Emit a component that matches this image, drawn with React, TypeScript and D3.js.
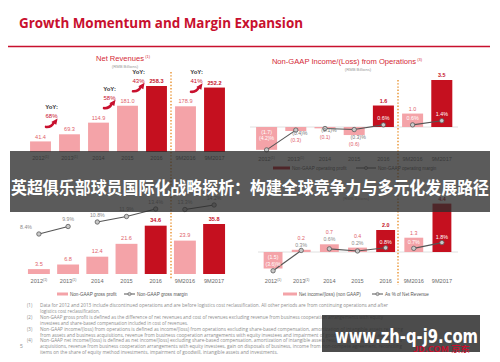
import React from "react";
import * as d3 from "d3";

// ---------- DATA ----------
const categories = ["2012", "2013", "2014", "2015", "2016", "9M2016", "9M2017"];
const superscripts = ["(1)", "(1)", "", "", "", "", ""];
const highlightCats = ["2016", "9M2017"];

const netRevenues = [41.4, 69.3, 114.9, 181.0, 258.3, 178.9, 252.2];
const yoyFrom = ["2012", "2014", "2015", "9M2016"];
const yoyLabels = ["68%", "58%", "43%", "41%"];

const opIncome = [-1.7, -0.3, -0.1, -0.6, 1.6, 1.0, 3.5];
const opMargin = [-4.2, -0.4, -0.1, -0.3, 0.6, 0.6, 1.4];

const grossProfit = [3.5, 6.8, 12.4, 21.6, 34.6, 23.9, 35.8];
const grossMargin = [8.4, 9.9, 10.8, 11.9, 13.4, 13.3, 14.2];

const netIncome = [-1.5, 0.2, 0.7, 0.4, 2.0, 1.3, 4.4];
const netMargin = [-3.6, 0.3, 0.6, 0.2, 0.8, 0.7, 1.8];

const lineSegments = [["2012", "2013"], ["2014", "2015", "2016"], ["9M2016", "9M2017"]];

const pageTitle = "Growth Momentum and Margin Expansion";
const bannerText = "英超俱乐部球员国际化战略探析：构建全球竞争力与多元化发展路径";
const watermark = "www.zh-q-j9.com";
const footnoteNums = ["(1)", "", "(2)", "", "(3)", "", "(4)", "", ""];
const footnoteTexts = [
  "Data for 2012 and 2013 include discontinued operations and are before logistics cost reclassification. All other periods are from continuing operations and after",
  "logistics cost reclassification.",
  "Non-GAAP gross profit is defined as the difference of net revenues and cost of revenues excluding revenue from business cooperation arrangements with equity",
  "investees and share-based compensation included in cost of revenues.",
  "Non-GAAP income/(loss) from operations is defined as income/(loss) from operations excluding share-based compensation, amortization of intangible assets resulting",
  "from assets and business acquisitions,  revenue from business cooperation arrangements with equity investees and impairment of goodwill and intangible assets.",
  "Non-GAAP net income/(loss) is defined as net income/(loss) excluding share-based compensation, amortization of intangible assets resulting from assets and business",
  "acquisitions, revenue from business cooperation arrangements with equity investees, gain on disposals of business, income from non-compete agreement, reconciling",
  "items on the share of equity method investments, impairment of goodwill, intangible assets and investments.",
];

// ---------- STYLE / LAYOUT ----------
const footnoteWidths = [348, 0, 343, 0, 363, 352, 362, 362, 238];
const RED = "#c8102e";
const TITLE_RED = "#d42a36";
const PINK = "#f4a3a8";
const DARK = "#c5101f";
const LABEL_PINK = "#e0626b";
const AXIS_GRAY = "#6a6a6a";
const ORANGE = "#e8912d";
const FONT = "'Liberation Sans', Arial, sans-serif";

const fmtVal = (v: number) => (v < 0 ? `(${Math.abs(v).toFixed(1)})` : v.toFixed(1));
const fmtPct = (v: number) => (v < 0 ? `(${Math.abs(v).toFixed(1)})%` : `${v.toFixed(1)}%`);

function band(r0: number, r1: number, inner: number) {
  return d3
    .scaleBand<string>()
    .domain(categories)
    .range([r0, r1])
    .paddingInner(inner)
    .paddingOuter(inner / 2);
}

function Swoosh({ x, y }: { x: number; y: number }) {
  return (
    <g transform={`translate(${x},${y})`}>
      <path d="M0.5,-0.5 Q6,0 8.3,-5" fill="none" stroke={RED} strokeWidth={2.6} strokeLinecap="round" />
      <path d="M5.8,-5.4 L12,-9 L10.8,-2.6 Z" fill={RED} />
    </g>
  );
}

function XLabels({ x, y }: { x: d3.ScaleBand<string>; y: number }) {
  return (
    <g fontFamily={FONT} fill={AXIS_GRAY}>
      {categories.map((c, i) => {
        const cx = (x(c) as number) + x.bandwidth() / 2;
        return (
          <text key={c} x={cx} y={y} textAnchor="middle" fontSize={5.6}>
            {c}
            {superscripts[i] ? (
              <tspan fontSize={3.4} dy={-2.2}>
                {superscripts[i]}
              </tspan>
            ) : null}
          </text>
        );
      })}
    </g>
  );
}

function MarginLine({
  x,
  y,
  values,
}: {
  x: d3.ScaleBand<string>;
  y: d3.ScaleLinear<number, number>;
  values: number[];
}) {
  const line = d3
    .line<string>()
    .x((c) => (x(c) as number) + x.bandwidth() / 2)
    .y((c) => y(values[categories.indexOf(c)]));
  return (
    <g>
      {lineSegments.map((seg, i) => (
        <path key={i} d={line(seg) || ""} fill="none" stroke="#555" strokeWidth={1.1} />
      ))}
      {categories.map((c, i) => (
        <circle
          key={c}
          cx={(x(c) as number) + x.bandwidth() / 2}
          cy={y(values[i])}
          r={2.2}
          fill="#c9c9c9"
          stroke="#5a5a5a"
          strokeWidth={0.8}
        />
      ))}
    </g>
  );
}

function LegendLine({ x1, x2, y }: { x1: number; x2: number; y: number }) {
  return (
    <g>
      <line x1={x1} x2={x2} y1={y} y2={y} stroke="#555" strokeWidth={1} />
      <circle cx={(x1 + x2) / 2} cy={y} r={1.6} fill="#c9c9c9" stroke="#5a5a5a" strokeWidth={0.6} />
    </g>
  );
}

export default function App() {
  // ---- Top-left: Net revenues ----
  const xTL = band(26, 229, 0.28);
  const yTL = d3.scaleLinear().domain([0, 258.3]).range([152, 86]);
  const cTL = (c: string) => (xTL(c) as number) + xTL.bandwidth() / 2;

  // ---- Top-right: Non-GAAP op income ----
  const xTR = band(252, 456.4, 0.28);
  const yTR = d3.scaleLinear().domain([0, 3.5]).range([127, 80]);
  const yTRm = d3.scaleLinear().domain([0, 1.4]).range([128, 120.7]);
  const cTR = (c: string) => (xTR(c) as number) + xTR.bandwidth() / 2;

  // ---- Bottom-left: gross profit ----
  const xBL = band(24.3, 228.7, 0.25);
  const yBL = d3.scaleLinear().domain([0, 35.8]).range([274, 224]);
  const yBLm = d3.scaleLinear().domain([8.4, 14.2]).range([234, 205]);
  const cBL = (c: string) => (xBL(c) as number) + xBL.bandwidth() / 2;

  // ---- Bottom-right: net income ----
  const xBR = band(259, 456, 0.33);
  const yBR = d3.scaleLinear().domain([0, 2.0]).range([252, 230]);
  const yBRm = d3.scaleLinear().domain([0, 1.8]).range([252, 242.6]);
  const cBR = (c: string) => (xBR(c) as number) + xBR.bandwidth() / 2;

  const isDark = (c: string) => highlightCats.includes(c);

  return (
    <svg
      width={500}
      height={362}
      style={{ position: "absolute", left: 0, top: 0, background: "#fff" }}
      fontFamily={FONT}
    >
      <rect x={0} y={0} width={500} height={362} fill="#fff" />

      {/* Page title */}
      <text
        x={19}
        y={27.5}
        fontFamily="'Open Sans', sans-serif"
        fontWeight={700}
        fontSize={14}
        fill={RED}
        textLength={284}
        lengthAdjust="spacingAndGlyphs"
      >
        {pageTitle}
      </text>
      <line x1={8} x2={490} y1={46.5} y2={46.5} stroke={RED} strokeWidth={1.5} />

      {/* ===== Top-left chart ===== */}
      <text x={123} y={61} textAnchor="middle" fontSize={7.6} fill={TITLE_RED}>
        Net Revenues
        <tspan fontSize={4} dy={-3}>
          {" (1)"}
        </tspan>
      </text>
      <text x={125} y={68} textAnchor="middle" fontSize={4.2} fill="#9a9a9a">
        (RMB Billions)
      </text>
      {categories.map((c, i) => {
        const v = netRevenues[i];
        const d = isDark(c);
        return (
          <g key={c}>
            <rect
              x={xTL(c)}
              y={yTL(v)}
              width={xTL.bandwidth()}
              height={yTL(0) - yTL(v)}
              fill={d ? DARK : PINK}
            />
            <text
              x={cTL(c)}
              y={yTL(v) - 2.8}
              textAnchor="middle"
              fontSize={5.6}
              fontWeight={d ? 700 : 400}
              fill={d ? DARK : LABEL_PINK}
            >
              {v.toFixed(1)}
            </text>
          </g>
        );
      })}
      {yoyFrom.map((c, i) => {
        const i0 = categories.indexOf(c);
        const ax = cTL(c) + xTL.step() * 0.38;
        const ay = yTL(netRevenues[i0]) - 14;
        return (
          <g key={c}>
            <text x={ax} y={ay - 18} textAnchor="middle" fontSize={6} fontWeight={700} fill="#333">
              YoY:
            </text>
            <text x={ax} y={ay - 9} textAnchor="middle" fontSize={6} fill={RED}>
              {yoyLabels[i]}
            </text>
            <Swoosh x={ax - 6} y={ay} />
          </g>
        );
      })}
      <XLabels x={xTL} y={160} />

      {/* ===== Top-right chart ===== */}
      <text x={347} y={63.5} textAnchor="middle" fontSize={7.6} fill={TITLE_RED}>
        Non-GAAP Income/(Loss) from Operations
        <tspan fontSize={4} dy={-3}>
          {" (3)"}
        </tspan>
      </text>
      <text x={358} y={71} textAnchor="middle" fontSize={4.2} fill="#9a9a9a">
        (RMB Billions)
      </text>
      <line x1={250} x2={458} y1={yTR(0)} y2={yTR(0)} stroke="#d8d8d8" strokeWidth={0.8} />
      {categories.map((c, i) => {
        const v = opIncome[i];
        const d = isDark(c);
        const top = Math.min(yTR(v), yTR(0));
        const h = Math.abs(yTR(v) - yTR(0));
        return (
          <rect key={c} x={xTR(c)} y={top} width={xTR.bandwidth()} height={h} fill={d ? DARK : PINK} />
        );
      })}
      <MarginLine x={xTR} y={yTRm} values={opMargin} />
      {categories.map((c, i) => {
        const v = opIncome[i];
        const m = opMargin[i];
        const d = isDark(c);
        const cx = cTR(c);
        if (v < 0 && i === 0) {
          return (
            <g key={c} fill="#fff" fontSize={5.2} textAnchor="middle">
              <text x={cx} y={yTR(0) + 7}>{fmtVal(v)}</text>
              <text x={cx} y={yTR(0) + 13}>{fmtPct(m)}</text>
            </g>
          );
        }
        if (v < 0) {
          const bottom = yTR(v);
          return (
            <g key={c} fontSize={5.2} textAnchor="middle">
              <text x={cx + 4} y={bottom + 4} fill="#777">{fmtPct(m)}</text>
              <text x={cx} y={bottom + 10.5} fill={LABEL_PINK}>{fmtVal(v)}</text>
            </g>
          );
        }
        return (
          <g key={c} fontSize={5.4} textAnchor="middle">
            <text x={cx} y={yTR(v) - 3} fill={d ? DARK : LABEL_PINK} fontWeight={d ? 700 : 400}>
              {fmtVal(v)}
            </text>
            <text x={cx} y={yTRm(m) - 4.5} fill="#fff">{fmtPct(m)}</text>
          </g>
        );
      })}
      <XLabels x={xTR} y={161} />
      <rect x={273} y={166.5} width={17} height={3} fill={DARK} />
      <text x={292} y={169.5} fontSize={4.6} fill="#555">Non-GAAP operating profit</text>
      <LegendLine x1={356} x2={376} y={168} />
      <text x={378} y={169.5} fontSize={4.6} fill="#555">Non-GAAP operating margin</text>

      {/* ===== Bottom-left chart ===== */}
      {categories.map((c, i) => {
        const v = grossProfit[i];
        const d = isDark(c);
        return (
          <g key={c}>
            <rect
              x={xBL(c)}
              y={yBL(v)}
              width={xBL.bandwidth()}
              height={yBL(0) - yBL(v)}
              fill={d ? DARK : PINK}
            />
            <text
              x={cBL(c)}
              y={yBL(v) - 3.5}
              textAnchor="middle"
              fontSize={5.6}
              fontWeight={d ? 700 : 400}
              fill={d ? DARK : LABEL_PINK}
            >
              {v.toFixed(1)}
            </text>
          </g>
        );
      })}
      <MarginLine x={xBL} y={yBLm} values={grossMargin} />
      {categories.map((c, i) => (
        <text
          key={c}
          x={i === 0 ? cBL(c) - 7 : cBL(c)}
          y={yBLm(grossMargin[i]) - 5.5}
          textAnchor={i === 0 ? "end" : "middle"}
          fontSize={5.2}
          fill="#8a8a8a"
        >
          {fmtPct(grossMargin[i])}
        </text>
      ))}
      <XLabels x={xBL} y={283} />
      <rect x={57} y={292.5} width={11} height={3} fill={PINK} />
      <text x={70} y={295.5} fontSize={4.6} fill="#555">Non-GAAP gross profit</text>
      <LegendLine x1={124} x2={135} y={294} />
      <text x={137} y={295.5} fontSize={4.6} fill="#555">Non-GAAP gross margin</text>

      {/* ===== Bottom-right chart ===== */}
      <text x={356} y={200} textAnchor="middle" fontSize={4.2} fill="#9a9a9a">
        (RMB Billions)
      </text>
      <line x1={258} x2={458} y1={yBR(0)} y2={yBR(0)} stroke="#d8d8d8" strokeWidth={0.8} />
      {categories.map((c, i) => {
        const v = netIncome[i];
        const d = isDark(c);
        const top = Math.min(yBR(v), yBR(0));
        const h = Math.abs(yBR(v) - yBR(0));
        return (
          <rect key={c} x={xBR(c)} y={top} width={xBR.bandwidth()} height={h} fill={d ? DARK : PINK} />
        );
      })}
      <MarginLine x={xBR} y={yBRm} values={netMargin} />
      {categories.map((c, i) => {
        const v = netIncome[i];
        const m = netMargin[i];
        const d = isDark(c);
        const cx = cBR(c);
        if (v < 0) {
          return (
            <g key={c} fill="#fff" fontSize={5.2} textAnchor="middle">
              <text x={cx} y={yBR(0) + 6.5}>{fmtVal(v)}</text>
              <text x={cx} y={yBR(0) + 13.5}>{fmtPct(m)}</text>
            </g>
          );
        }
        if (!d && v < 1) {
          const t = Math.min(yBR(v), yBRm(m)) - 3;
          return (
            <g key={c} fontSize={5.2} textAnchor="middle">
              <text x={cx} y={t} fill="#8a8a8a">{fmtPct(m)}</text>
              <text x={cx} y={t - 7} fill={LABEL_PINK}>{fmtVal(v)}</text>
            </g>
          );
        }
        return (
          <g key={c} fontSize={5.4} textAnchor="middle">
            <text x={cx} y={yBR(v) - 3} fill={d ? DARK : LABEL_PINK} fontWeight={d ? 700 : 400}>
              {fmtVal(v)}
            </text>
            <text x={cx} y={yBRm(m) - 4} fill="#fff">{fmtPct(m)}</text>
          </g>
        );
      })}
      <XLabels x={xBR} y={283} />
      <rect x={283} y={292.5} width={14} height={3} fill={PINK} />
      <text x={299} y={295.5} fontSize={4.6} fill="#555">Net income/(loss) (non GAAP)</text>
      <LegendLine x1={372} x2={383} y={294} />
      <text x={385} y={295.5} fontSize={4.6} fill="#555">As % of Net Revenue</text>

      {/* Orange dotted separators */}
      <line x1={171} x2={171} y1={72} y2={280} stroke={ORANGE} strokeWidth={1.4} strokeDasharray="1.4,1.8" />
      <line x1={398} x2={398} y1={80} y2={285} stroke={ORANGE} strokeWidth={1.4} strokeDasharray="1.4,1.8" />

      {/* Footnotes */}
      {footnoteTexts.map((t, i) => {
        const y = 307 + i * 5.9;
        const w = footnoteWidths[i];
        return (
          <g key={i} fontSize={4.5} fill="#8c8c8c" fontFamily="'Open Sans', sans-serif">
            {footnoteNums[i] ? (
              <text x={27} y={y}>
                {footnoteNums[i]}
              </text>
            ) : null}
            {w ? (
              <text x={40} y={y} textLength={w} lengthAdjust="spacingAndGlyphs">
                {t}
              </text>
            ) : (
              <text x={40} y={y}>{t}</text>
            )}
          </g>
        );
      })}
      <text x={20} y={348} fontSize={5} fill="#999">5</text>

      {/* Banner overlay */}
      <rect x={10} y={151} width={480} height={61} fill="rgba(45,45,45,0.78)" />
      <text
        x={11}
        y={194}
        fontFamily="'Noto Sans CJK SC', sans-serif"
        fontWeight={700}
        fontSize={17}
        fill="#fff"
        textLength={478}
        lengthAdjust="spacingAndGlyphs"
      >
        {bannerText}
      </text>

      {/* Watermark box */}
      <rect x={322} y={315} width={158} height={37} fill="rgba(45,45,45,0.85)" />
      <text
        x={335}
        y={343}
        fontFamily="'DejaVu Sans', sans-serif"
        fontWeight={700}
        fontSize={19}
        fill="#fff"
        textLength={143}
        lengthAdjust="spacingAndGlyphs"
      >
        {watermark}
      </text>
      <text
        x={413}
        y={352}
        fontFamily="'Noto Sans CJK SC', sans-serif"
        fontWeight={700}
        fontSize={8}
        fill={RED}
        textLength={57}
        lengthAdjust="spacingAndGlyphs"
      >
        JD.COM 京东
      </text>
    </svg>
  );
}
